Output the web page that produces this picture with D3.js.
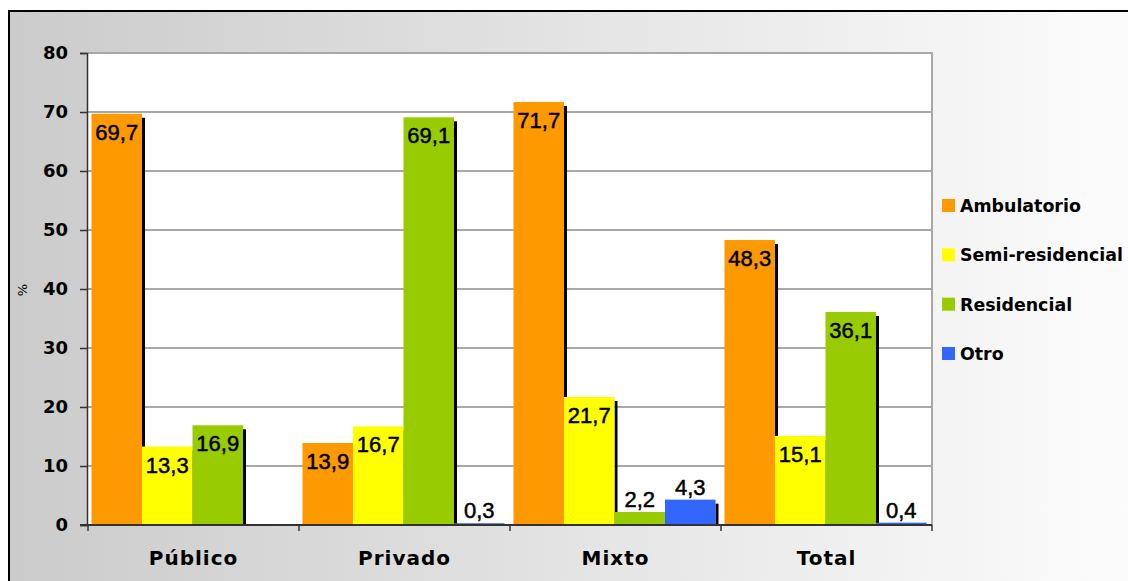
<!DOCTYPE html>
<meta charset="utf-8">
<style>
body{ margin:0; background:#fff; }
.tick text{ font-family:"DejaVu Sans", sans-serif; font-weight:bold; font-size:18px; fill:#000; }
.cat{ font-family:"DejaVu Sans", sans-serif; font-weight:bold; font-size:20px; letter-spacing:1px; text-anchor:middle; }
.val{ font-family:"Liberation Sans", Arial, sans-serif; font-size:22px; text-anchor:middle; fill:#000; stroke:#000; stroke-width:0.5px; }
.leg{ font-family:"DejaVu Sans", sans-serif; font-weight:bold; font-size:17.4px; }
.grid line{ stroke:#a8a8a8; stroke-width:2px; }
</style>
<body>
<div id="chart"></div>
<script src="https://cdn.jsdelivr.net/npm/d3@7"></script>
<script>
// data
var categories = ["Público", "Privado", "Mixto", "Total"];
var series = ["Ambulatorio", "Semi-residencial", "Residencial", "Otro"];
var colors = ["#ff9900", "#ffff00", "#99cc00", "#3366ff"];
var ambulatorio = [69.7, 13.9, 71.7, 48.3];
var semiResidencial = [13.3, 16.7, 21.7, 15.1];
var residencial = [16.9, 69.1, 2.2, 36.1];
var otro = [null, 0.3, 4.3, 0.4];
var yTicks = [0, 10, 20, 30, 40, 50, 60, 70, 80];

var values = [ambulatorio, semiResidencial, residencial, otro];

var W = 1128, H = 581;
var svg = d3.select("#chart").append("svg").attr("width", W).attr("height", H);

var defs = svg.append("defs");
var grad = defs.append("linearGradient").attr("id", "bg")
    .attr("x1", "0%").attr("y1", "0%").attr("x2", "100%").attr("y2", "0%");
grad.append("stop").attr("offset", "0%").attr("stop-color", "#cbcbcb");
grad.append("stop").attr("offset", "100%").attr("stop-color", "#fcfcfc");

// frame
svg.append("rect").attr("x", 9).attr("y", 11).attr("width", W - 9).attr("height", H - 11)
    .attr("fill", "url(#bg)");
svg.append("line").attr("x1", 9).attr("x2", 9).attr("y1", 10).attr("y2", H).attr("stroke", "#000").attr("stroke-width", 2);
svg.append("line").attr("x1", 8).attr("x2", W).attr("y1", 11).attr("y2", 11).attr("stroke", "#000").attr("stroke-width", 2);

var pLeft = 88, pRight = 932, pTop = 53, pBottom = 525;

var x = d3.scaleBand().domain(categories).range([pLeft, pRight]);
var xs = d3.scaleBand().domain(series).range([3.5, x.bandwidth() - 5.5]);
var y = d3.scaleLinear().domain([0, 80]).range([pBottom, pTop]);

// plot area
svg.append("rect").attr("x", pLeft).attr("y", pTop).attr("width", pRight - pLeft).attr("height", pBottom - pTop)
    .attr("fill", "#fff");

svg.append("g").attr("class", "grid")
    .selectAll("line").data(yTicks.filter(d => d > 0)).enter().append("line")
    .attr("x1", pLeft).attr("x2", pRight)
    .attr("y1", d => y(d)).attr("y2", d => y(d));

svg.append("line").attr("x1", pRight).attr("x2", pRight).attr("y1", pTop - 1).attr("y2", pBottom)
    .attr("stroke", "#a8a8a8").attr("stroke-width", 2);

// bars, each with its black drop shadow on the right
var g = svg.append("g");
series.forEach(function(s, i){
    categories.forEach(function(c, j){
        var v = values[i][j];
        if (v == null) return;
        var bx = x(c) + xs(s), bw = xs.bandwidth(), by = y(v);
        g.append("rect").attr("x", bx + bw).attr("y", Math.min(by + 4, pBottom)).attr("width", 3)
            .attr("height", Math.max(0, pBottom - by - 4)).attr("fill", "#000");
        g.append("rect").attr("x", bx).attr("y", by).attr("width", bw)
            .attr("height", pBottom - by).attr("fill", colors[i]);
    });
});

// value labels
series.forEach(function(s, i){
    categories.forEach(function(c, j){
        var v = values[i][j];
        if (v == null) return;
        var by = y(v);
        svg.append("text").attr("class", "val")
            .attr("x", x(c) + xs(s) + xs.bandwidth() / 2)
            .attr("y", v < 10 ? by - 5 : by + 26)
            .text(d3.format(".1f")(v).replace(".", ","));
    });
});

// axes
var yAxis = svg.append("g").attr("transform", "translate(" + (pLeft - 1) + ",0)")
    .call(d3.axisLeft(y).tickValues(yTicks).tickSize(7).tickPadding(12).tickFormat(d3.format("d")));
yAxis.select(".domain").attr("stroke", "#333").attr("stroke-width", 1.5);
yAxis.selectAll(".tick line").attr("stroke", "#333").attr("stroke-width", 1.5);

var xAxis = svg.append("g").attr("transform", "translate(0," + pBottom + ")");
xAxis.append("line").attr("x1", pLeft - 8).attr("x2", pRight).attr("stroke", "#333").attr("stroke-width", 2);
xAxis.selectAll(".sep").data(categories.concat([null])).enter().append("line")
    .attr("x1", (d, i) => i < categories.length ? x(d) : pRight)
    .attr("x2", (d, i) => i < categories.length ? x(d) : pRight)
    .attr("y1", 0).attr("y2", 6).attr("stroke", "#333").attr("stroke-width", 1.5);

svg.selectAll(".cat").data(categories).enter().append("text").attr("class", "cat")
    .attr("x", d => x(d) + x.bandwidth() / 2).attr("y", 565).text(d => d);

svg.append("text").attr("transform", "translate(27,290) rotate(-90)")
    .attr("text-anchor", "middle").style("font-family", "DejaVu Sans, sans-serif")
    .style("font-size", "13px").text("%");

// legend
var leg = svg.append("g").attr("transform", "translate(942,0)");
var ly = d3.scalePoint().domain(series).range([205, 353]);
leg.selectAll("rect").data(series).enter().append("rect")
    .attr("x", 0).attr("y", d => ly(d) - 6).attr("width", 13).attr("height", 13)
    .attr("fill", (d, i) => colors[i]);
leg.selectAll("text").data(series).enter().append("text").attr("class", "leg")
    .attr("x", 18).attr("y", d => ly(d) + 7).text(d => d);
</script>
</body>
</html>
